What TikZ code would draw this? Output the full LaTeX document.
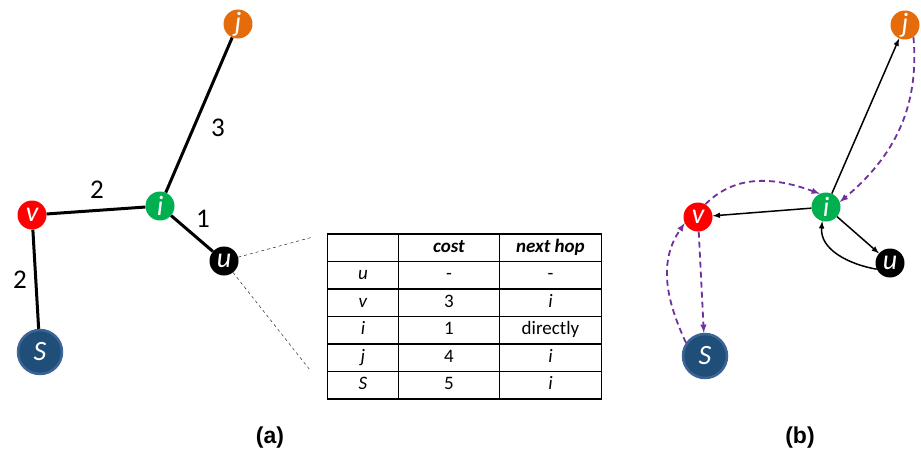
\documentclass[tikz,border=0pt]{standalone}
\usepackage{fontspec}
\setmainfont{Carlito}
\newfontfamily\capfont{Liberation Sans}
\usepackage{tikz}
\usetikzlibrary{matrix}
\usetikzlibrary{positioning}

\definecolor{jcol}{HTML}{E46C0A}
\definecolor{icol}{HTML}{00B050}
\definecolor{vcol}{HTML}{FF0000}
\definecolor{scol}{HTML}{1F4E79}
\definecolor{sring}{HTML}{3C6496}
\definecolor{flow}{HTML}{7030A0}

\begin{document}
\begin{tikzpicture}
    [
    x=1pt, y=-1pt,
    vertex/.style={circle,inner sep=0pt,minimum size=29pt,text=white,
      font=\fontsize{28}{28}\selectfont\itshape},
    src/.style={vertex,fill=scol,draw=sring,line width=2.5pt,minimum size=44pt},
    link/.style={line width=3pt},
    cost/.style={font=\fontsize{27}{27}\selectfont},
    hop/.style={line width=1.5pt,-latex},
    flowarrow/.style={flow,line width=1.8pt,dash pattern=on 6pt off 4pt,-latex},
    ]
    \useasboundingbox (0,0) rectangle (921,455);

    % (a)
    \node (ja) at (238,24) [vertex, fill=jcol] {j};
    \node (ia) at (160,206) [vertex, fill=icol] {i};
    \node (va) at (32,215) [vertex, fill=vcol] {v};
    \node (ua) at (224,261) [vertex, fill=black] {u};
    \node (sa) at (40,352) [src] {S};

    \draw [link] (ja) to (ia);
    \draw [link] (ia) to (va);
    \draw [link] (ia) to (ua);
    \draw [link] (va) to (sa);

    \node (c3) at (218,128) [cost] {3};
    \node (c2) at (97,190) [cost] {2};
    \node (c1) at (203,219) [cost] {1};
    \node (c4) at (20,280) [cost] {2};

    \matrix (rt) at (464.5,316.5) [matrix of nodes, nodes in empty cells,
      row sep=-1.4pt, column sep=-1.4pt,
      nodes={draw,line width=1.4pt,anchor=center,minimum height=27.5pt,
        inner sep=0pt,text height=13pt,text depth=4pt,
        font=\fontsize{19}{19}\selectfont},
      column 1/.style={nodes={minimum width=71pt}},
      column 2/.style={nodes={minimum width=101pt}},
      column 3/.style={nodes={minimum width=102pt}}]
    {
                 & \textbf{\textit{cost}} & \textbf{\textit{next hop}} \\
      \textit{u} & -                      & -                          \\
      \textit{v} & 3                      & \textit{i}                 \\
      \textit{i} & 1                      & directly                   \\
      \textit{j} & 4                      & \textit{i}                 \\
      \textit{S} & 5                      & \textit{i}                 \\
    };

    \coordinate (t1) at (313,237);
    \coordinate (t2) at (310,370);
    \draw [dashed] (ua) to (t1);
    \draw [dashed] (ua) to (t2);

    \node (capa) at (270,438) {\capfont\bfseries\fontsize{23}{23}\selectfont (a)};

    % (b)
    \node (jb) at (905,25) [vertex, fill=jcol] {j};
    \node (ib) at (826,207) [vertex, fill=icol] {i};
    \node (vb) at (698,217) [vertex, fill=vcol] {v};
    \node (ub) at (890,263) [vertex, fill=black] {u};
    \node (sb) at (705,356) [src] {S};

    \draw [hop] (ib) to (jb);
    \draw [hop] (ib) to (vb);
    \draw [hop] (ib) to (ub);
    \draw [hop] (ub.205) to [out=170, in=-95] (ib.255);

    \draw [flowarrow] (jb.-55) to [out=-85, in=40] (ib.20);
    \draw [flowarrow] (vb.60) to [out=45, in=160] (ib.115);
    \draw [flowarrow] (vb) to (sb);
    \draw [flowarrow] (sb.145) to [out=115, in=235] (vb.205);

    \node (capb) at (800,438) {\capfont\bfseries\fontsize{23}{23}\selectfont (b)};
  \end{tikzpicture}
\end{document}
